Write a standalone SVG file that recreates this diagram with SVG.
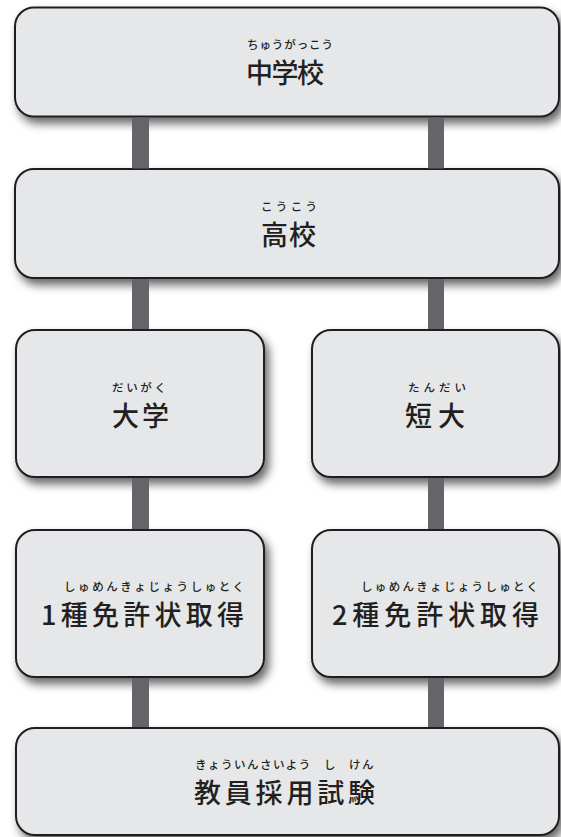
<svg xmlns="http://www.w3.org/2000/svg" width="561" height="837" viewBox="0 0 561 837">
<defs>
<filter id="sh" x="-10%" y="-20%" width="130%" height="160%">
<feDropShadow dx="4" dy="6" stdDeviation="5" flood-color="#000" flood-opacity="0.6"/>
</filter>
<style>
.box{fill:#e6e7e8;stroke:#231f20;stroke-width:2;filter:url(#sh)}
.main{font-family:"Noto Sans CJK JP","Noto Sans",sans-serif;font-size:27px;font-weight:500;fill:#231f20}
.ruby{font-family:"Noto Sans CJK JP","Noto Sans",sans-serif;font-size:11.5px;font-weight:500;fill:#231f20}
.con{fill:#646569}
</style>
</defs>
<rect width="561" height="837" fill="#fff"/>
<g id="n1"><rect class="box" x="15" y="7.5" width="544" height="109" rx="19"/>
<text class="ruby" x="247" y="49" textLength="86" lengthAdjust="spacing">ちゅうがっこう</text>
<text class="main" x="246" y="83" textLength="78" lengthAdjust="spacing">中学校</text></g>
<g id="n2"><rect class="box" x="15" y="169" width="544" height="109" rx="19"/>
<text class="ruby" x="261" y="211" textLength="56" lengthAdjust="spacing">こうこう</text>
<text class="main" x="261" y="244.5" textLength="55" lengthAdjust="spacing">高校</text></g>
<g id="n3"><rect class="box" x="16" y="330" width="248" height="147" rx="19"/>
<text class="ruby" x="112" y="392" textLength="54" lengthAdjust="spacing">だいがく</text>
<text class="main" x="112" y="426" textLength="57" lengthAdjust="spacing">大学</text></g>
<g id="n4"><rect class="box" x="312" y="330" width="247" height="147" rx="19"/>
<text class="ruby" x="408" y="392" textLength="58" lengthAdjust="spacing">たんだい</text>
<text class="main" x="405" y="426" textLength="60" lengthAdjust="spacing">短大</text></g>
<g id="n5"><rect class="box" x="16" y="530" width="248" height="147" rx="19"/>
<text class="ruby" x="64" y="591" textLength="180" lengthAdjust="spacing">しゅめんきょじょうしゅとく</text>
<text class="main" x="41" y="624.5" textLength="203" lengthAdjust="spacing">1種免許状取得</text></g>
<g id="n6"><rect class="box" x="312" y="530" width="247" height="147" rx="19"/>
<text class="ruby" x="361" y="591" textLength="177" lengthAdjust="spacing">しゅめんきょじょうしゅとく</text>
<text class="main" x="332" y="624.5" textLength="207" lengthAdjust="spacing">2種免許状取得</text></g>
<g id="n7"><rect class="box" x="16" y="728" width="543" height="107" rx="19"/>
<text class="ruby" y="769"><tspan x="195" letter-spacing="1.5">きょういんさいよう</tspan><tspan x="324">し</tspan><tspan x="349" letter-spacing="1.5">けん</tspan></text>
<text class="main" x="194" y="803" textLength="181" lengthAdjust="spacing">教員採用試験</text></g>
<g id="connectors">
<rect class="con" x="132" y="117.5" width="17" height="51"/>
<rect class="con" x="428" y="117.5" width="16" height="51"/>
<rect class="con" x="132" y="279" width="17" height="50"/>
<rect class="con" x="428" y="279" width="16" height="50"/>
<rect class="con" x="132" y="478" width="17" height="51"/>
<rect class="con" x="428" y="478" width="16" height="51"/>
<rect class="con" x="132" y="678" width="17" height="49"/>
<rect class="con" x="428" y="678" width="16" height="49"/>
</g>
</svg>
